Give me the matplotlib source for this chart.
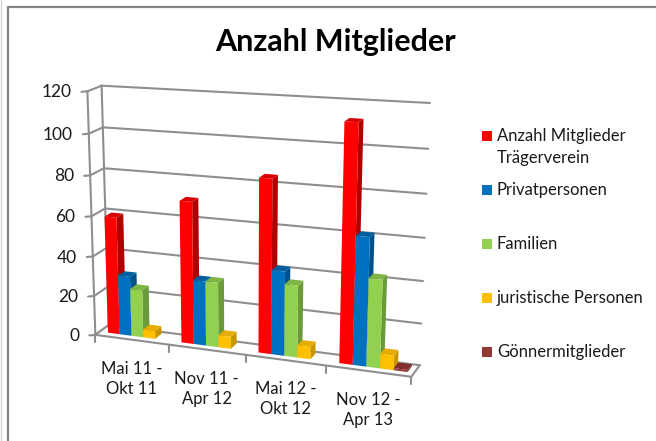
import numpy as np
import matplotlib
matplotlib.use('Agg')
import matplotlib.pyplot as plt
from matplotlib.patches import Polygon

plt.rcParams['font.family'] = ['Lato', 'DejaVu Sans']

categories = ['Mai 11 -\nOkt 11', 'Nov 11 -\nApr 12', 'Mai 12 -\nOkt 12', 'Nov 12 -\nApr 13']
series_names = ['Anzahl Mitglieder\nTrägerverein', 'Privatpersonen', 'Familien',
                'juristische Personen', 'Gönnermitglieder']
traeger = [59, 70, 84, 112]
privat = [30, 32, 41, 61]
familien = [24, 32, 35, 42]
juristisch = [4, 6, 6, 7]
goenner = [0, 0, 0, 1]
series_values = [traeger, privat, familien, juristisch, goenner]
y_ticks = [0, 20, 40, 60, 80, 100, 120]

front_colors = ['#FF0000', '#0070C0', '#92D050', '#FFC000', '#953735']
side_colors = ['#B00000', '#00528C', '#6A9A3A', '#C89600', '#6E2826']
top_colors = ['#D80000', '#005F9E', '#7FB545', '#E6AC00', '#7E2E2C']
grid_color = '#8E8E8E'
text_color = '#1A1A1A'


def fit_camera():
    # known corners of the 3D box: (category, depth, value) -> pixel
    corners = [
        (0, 0, 0, 96, 335), (0, 0, 120, 87, 91),
        (4, 0, 0, 411, 377),
        (0, 1, 0, 108, 325), (0, 1, 120, 102, 86),
        (4, 1, 0, 420, 365), (4, 1, 120, 430, 103),
    ]
    rows, rhs = [], []
    for u, d, v, px, py in corners:
        rows.append([u, d, v, 1, 0, 0, 0, 0, -px * u, -px * d, -px * v])
        rhs.append(px)
        rows.append([0, 0, 0, 0, u, d, v, 1, -py * u, -py * d, -py * v])
        rhs.append(py)
    sol = np.linalg.lstsq(np.array(rows, float), np.array(rhs, float), rcond=None)[0]
    return np.append(sol, 1.0).reshape(3, 4)


cam = fit_camera()


def proj(u, d, v):
    p = cam @ np.array([u, d, v, 1.0])
    return p[0] / p[2], p[1] / p[2]


fig = plt.figure(figsize=(6.56, 4.41), dpi=100)
ax = fig.add_axes([0, 0, 1, 1])
ax.set_xlim(0, 656)
ax.set_ylim(441, 0)
ax.axis('off')


def seg(a, b, lw=1.5, color=grid_color, z=1):
    ax.plot([a[0], b[0]], [a[1], b[1]], color=color, lw=lw, zorder=z, solid_capstyle='round')


# chart frame
seg((7.5, 6.5), (656, 6.5), lw=1.6, color='#858585')
seg((7.5, 6.5), (7.5, 441), lw=1.6, color='#858585')
seg((0.5, 0), (0.5, 441), lw=1, color='#D5D5D5')

# walls and gridlines
n_cat = len(categories)
for v in y_ticks:
    seg(proj(0, 0, v), proj(0, 1, v))
    if v > 0:
        seg(proj(0, 1, v), proj(n_cat, 1, v))
    px, py = proj(0, 0, v)
    seg((px - 6, py + 0.5), (px, py))
    ax.text(px - 16, py + 1, str(v), ha='right', va='center', fontsize=12.5, color=text_color)
seg(proj(0, 0, 0), proj(0, 0, 120))
seg(proj(0, 1, 0), proj(0, 1, 120))

# floor
ax.add_patch(Polygon([proj(0, 0, 0), proj(n_cat, 0, 0), proj(n_cat, 1, 0), proj(0, 1, 0)],
                     closed=True, fc='white', ec=grid_color, lw=1.5, zorder=2))
for i in range(n_cat + 1):
    px, py = proj(i, 0, 0)
    seg((px, py), (px, py + 7), z=2)

# bars, left to right is enough for the overlaps
bar_w = 0.162
margin = 0.115
d0, d1 = 0.33, 0.83
zo = 3
for i in range(n_cat):
    for s, vals in enumerate(series_values):
        v = vals[i]
        if v == 0:
            continue
        u0 = i + margin + s * bar_w
        u1 = u0 + bar_w
        side = [proj(u1, d0, 0), proj(u1, d1, 0), proj(u1, d1, v), proj(u1, d0, v)]
        top = [proj(u0, d0, v), proj(u1, d0, v), proj(u1, d1, v), proj(u0, d1, v)]
        front = [proj(u0, d0, 0), proj(u1, d0, 0), proj(u1, d0, v), proj(u0, d0, v)]
        ax.add_patch(Polygon(side, closed=True, fc=side_colors[s], ec='none', zorder=zo))
        ax.add_patch(Polygon(top, closed=True, fc=top_colors[s], ec='none', zorder=zo))
        ax.add_patch(Polygon(front, closed=True, fc=front_colors[s], ec='none', zorder=zo))
        zo += 1

# category labels
for i, name in enumerate(categories):
    px, py = proj(i + 0.5, 0, 0)
    ax.text(px, py + 39, name, ha='center', va='center', fontsize=12, color=text_color,
            linespacing=1.3)

# legend
leg_y = [135.5, 190, 244, 298, 352]
for name, color, y in zip(series_names, front_colors, leg_y):
    ax.scatter([487], [y], marker='s', s=58, color=color, zorder=5, linewidths=0)
    first = name.split('\n')[0]
    ax.text(497, y, first, ha='left', va='center', fontsize=12, color=text_color)
    if '\n' in name:
        ax.text(497, y + 22, name.split('\n')[1], ha='left', va='center', fontsize=12, color=text_color)

ax.text(335, 41.5, 'Anzahl Mitglieder', ha='center', va='center', fontsize=22, fontweight='bold', color='black')

fig.savefig('out.png', dpi=100)
